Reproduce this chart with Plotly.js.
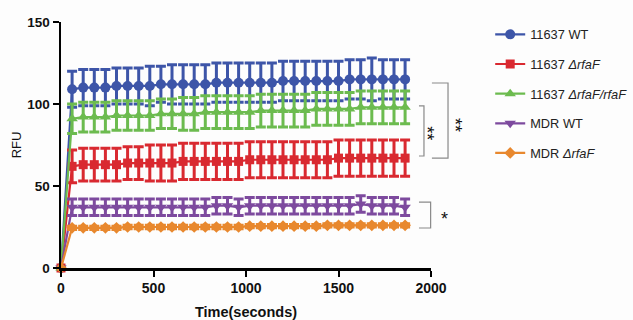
<!DOCTYPE html>
<html>
<head>
<meta charset="utf-8">
<script src="https://cdn.plot.ly/plotly-3.0.1.min.js"></script>
<style>html,body{margin:0;padding:0;background:#fdfdfd;}#chart{width:633px;height:320px;}</style>
</head>
<body>
<div id="chart"></div>
<script>
const time = [0, 60, 120, 180, 240, 300, 360, 420, 480, 540, 600, 660, 720, 780, 840, 900, 960, 1020, 1080, 1140, 1200, 1260, 1320, 1380, 1440, 1500, 1560, 1620, 1680, 1740, 1800, 1860];

const seriesNames = ["11637 WT", "11637 <i>\u0394rfaF</i>", "11637 <i>\u0394rfaF/rfaF</i>", "MDR WT", "MDR <i>\u0394rfaF</i>"];

const wt11637 = [0, 109, 110, 110, 110, 111, 111, 111, 111, 112, 112, 112, 112, 112, 113, 113, 113, 113, 113, 113, 114, 114, 114, 114, 114, 114, 115, 115, 115, 115, 115, 115];
const wt11637Err = [0, 11, 11, 11, 11, 11, 11, 11, 12, 11, 12, 12, 12, 12, 12, 12, 12, 12, 12, 12, 12, 12, 12, 12, 12, 12, 12, 12, 13, 12, 12, 12];

const rfaF11637 = [0, 62, 63, 63, 63, 63, 64, 64, 64, 64, 64, 65, 65, 65, 65, 65, 65, 66, 66, 66, 66, 66, 66, 66, 66, 67, 67, 67, 67, 67, 67, 67];
const rfaF11637Err = [0, 10, 10, 10, 10, 10, 10, 10, 11, 11, 11, 11, 11, 11, 11, 11, 11, 11, 11, 11, 11, 11, 11, 11, 11, 11, 11, 11, 11, 11, 11, 11];

const comp11637 = [0, 91, 92, 92, 92, 93, 93, 93, 93, 94, 94, 94, 94, 95, 95, 95, 95, 95, 96, 96, 96, 96, 96, 97, 97, 97, 97, 98, 98, 98, 98, 98];
const comp11637Err = [0, 9, 9, 9, 9, 9, 9, 9, 9, 9, 9, 10, 10, 10, 10, 10, 10, 10, 10, 10, 10, 10, 10, 10, 10, 10, 10, 10, 10, 10, 10, 10];

const mdrWT = [0, 37, 37, 37, 37, 37, 37, 37, 37, 37, 37, 37, 37, 37, 38, 38, 37, 38, 38, 38, 38, 38, 38, 38, 38, 38, 38, 39, 38, 38, 38, 37];
const mdrWTErr = [0, 5, 5, 5, 5, 5, 5, 5, 5, 5, 5, 5, 5, 5, 5, 5, 5, 5, 5, 5, 5, 5, 5, 5, 5, 5, 5, 5, 5, 5, 5, 5];

const mdrRfaF = [0, 24.5, 24.5, 24.5, 24.5, 24.5, 25, 25, 25, 25, 25, 25, 25, 25, 25, 25, 25, 25.5, 25.5, 25.5, 25.5, 25.5, 25.5, 25.5, 26, 26, 26, 26, 26, 26, 26, 26];
const mdrRfaFErr = [0, 1, 1, 1, 1, 1, 1, 1, 1, 1, 1, 1, 1, 1, 1, 1, 1, 1, 1, 1, 1, 1, 1, 1, 1, 1, 1, 1, 1, 1, 1, 1];

const colors = ["#3d55a8", "#d92930", "#6cbb4f", "#7d4a9e", "#e8882e"];
const symbols = ["circle", "square", "triangle-up", "triangle-down", "diamond"];
const sizes = [10, 9, 10, 10, 9];

const ys = [wt11637, rfaF11637, comp11637, mdrWT, mdrRfaF];
const errs = [wt11637Err, rfaF11637Err, comp11637Err, mdrWTErr, mdrRfaFErr];

const traces = ys.map((y, i) => ({
  x: time, y: y, type: "scatter", mode: "lines+markers",
  name: seriesNames[i], legendgroup: "g" + i,
  line: {color: colors[i], width: 2.2},
  marker: {color: colors[i], symbol: symbols[i], size: sizes[i]},
  error_y: {type: "data", array: errs[i], visible: true, color: colors[i], thickness: 3, width: 5},
  cliponaxis: false
}));

// bracket geometry (paper x, data y)
const bc = "#8a8a8a";
const shapes = [
  {type: "path", xref: "paper", yref: "y", path: "M 1.0025 112.8 L 1.046 112.8 L 1.046 67 L 1.0025 67", line: {color: bc, width: 1.2}},
  {type: "path", xref: "paper", yref: "y", path: "M 0.9675 98.8 L 0.981 98.8 L 0.981 68.3 L 0.9675 68.3", line: {color: bc, width: 1.2}},
  {type: "path", xref: "paper", yref: "y", path: "M 0.9675 40.2 L 0.999 40.2 L 0.999 24.4 L 0.9675 24.4", line: {color: bc, width: 1.2}}
];
const starFont = {family: "Liberation Sans, Arial", size: 18, color: "#111"};
const annotations = [
  {x: 0.99, y: 82, xref: "paper", yref: "y", xanchor: "center", yanchor: "middle", text: "**", showarrow: false, textangle: 90, font: starFont},
  {x: 1.063, y: 87, xref: "paper", yref: "y", xanchor: "center", yanchor: "middle", text: "**", showarrow: false, textangle: 90, font: starFont},
  {x: 1.036, y: 30, xref: "paper", yref: "y", xanchor: "center", yanchor: "middle", text: "*", showarrow: false, font: starFont}
];

const layout = {
  width: 633, height: 320,
  margin: {l: 61, r: 202, t: 22, b: 52, autoexpand: false},
  paper_bgcolor: "#fdfdfd", plot_bgcolor: "#fdfdfd",
  font: {family: "Liberation Sans, Arial, sans-serif", color: "#111"},
  showlegend: true,
  legend: {x: 1.16, xanchor: "left", y: 1.01, yanchor: "top", tracegroupgap: 10,
           font: {size: 12.8, color: "#222"}, bgcolor: "rgba(0,0,0,0)"},
  xaxis: {range: [0, 2000], tickvals: [0, 500, 1000, 1500, 2000], ticktext: ["<b>0</b>", "<b>500</b>", "<b>1000</b>", "<b>1500</b>", "<b>2000</b>"],
          showgrid: false, zeroline: false, showline: true, linecolor: "#000", linewidth: 2.5,
          ticks: "outside", ticklen: 6, tickwidth: 2, tickcolor: "#000",
          tickfont: {size: 14, color: "#111"},
          title: {text: "<b>Time(seconds)</b>", font: {size: 14.5, color: "#111"}, standoff: 13}},
  yaxis: {range: [0, 150], tickvals: [0, 50, 100, 150], ticktext: ["<b>0</b>", "<b>50</b>", "<b>100</b>", "<b>150</b>"],
          showgrid: false, zeroline: false, showline: true, linecolor: "#000", linewidth: 2.5,
          ticks: "outside", ticklen: 6, tickwidth: 2, tickcolor: "#000",
          tickfont: {size: 13.5, color: "#111"},
          title: {text: "RFU", font: {size: 13, color: "#111"}, standoff: 3}},
  shapes: shapes, annotations: annotations
};

Plotly.newPlot("chart", traces, layout, {displayModeBar: false, staticPlot: true});
</script>
</body>
</html>
